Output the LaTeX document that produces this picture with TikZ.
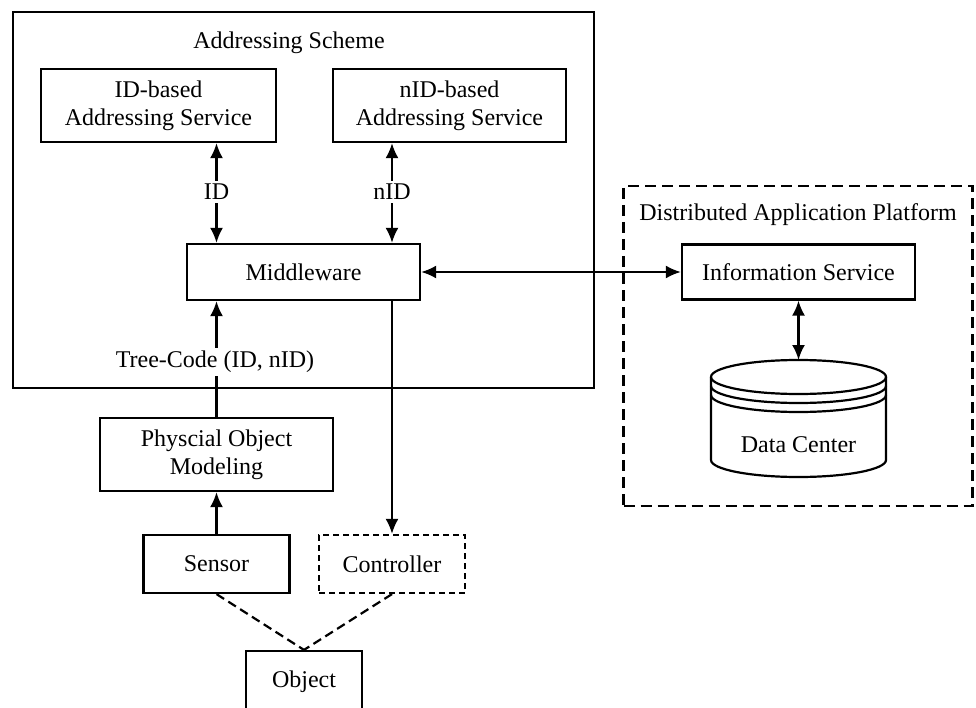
\documentclass[tikz,border=0pt]{standalone}
\usepackage{fontspec}
\setmainfont{Liberation Serif}
\usetikzlibrary{arrows.meta}

\tikzset{
  blk/.style={draw, line width=2.2pt, align=center, inner sep=0pt},
  dblk/.style={blk, dash pattern=on 6pt off 4pt},
  lbl/.style={fill=white, inner sep=3pt},
  link/.style={line width=2.2pt, -{Latex[length=15pt,width=13pt]}},
  dlink/.style={line width=2.2pt, {Latex[length=15pt,width=13pt]}-{Latex[length=15pt,width=13pt]}},
  wire/.style={line width=2.2pt, dash pattern=on 9pt off 5pt},
}

\begin{document}
\begin{tikzpicture}[x=1pt, y=-1pt, font=\fontsize{24}{28}\selectfont]
        \useasboundingbox (0,0) rectangle (976,708);

        % addressing scheme
        \node[blk, minimum width=581pt, minimum height=376pt] at (303.5,200) (scheme) {};
        \node at (289,43) (schemetitle) {Addressing Scheme};
        \node[blk, minimum width=235pt, minimum height=73pt] at (158.5,105.5) (idsvc) {ID-based\\Addressing Service};
        \node[blk, minimum width=233pt, minimum height=73pt] at (449.5,105.5) (nidsvc) {nID-based\\Addressing Service};
        \node[blk, minimum width=233pt, minimum height=56pt] at (303.5,272) (mw) {Middleware};

        % physical side
        \node[blk, minimum width=233pt, minimum height=73pt] at (216.5,454.5) (pom) {Physcial Object\\Modeling};
        \node[blk, minimum width=146pt, minimum height=58pt] at (216.5,564) (sensor) {Sensor};
        \node[dblk, minimum width=146pt, minimum height=58pt] at (392,564) (ctrl) {Controller};
        \node[blk, minimum width=116pt, minimum height=62pt] at (304,682) (obj) {Object};

        % distributed application platform
        \node[blk, dash pattern=on 11pt off 6pt, minimum width=349pt, minimum height=320pt] at (798,346) (dap) {};
        \node at (798,215) (daptitle) {Distributed Application Platform};
        \node[blk, minimum width=233pt, minimum height=55pt] at (798.5,272) (info) {Information Service};

        % data center
        \coordinate (dctop) at (798.5,360);
        \draw[line width=2.2pt] (798.5,377) ellipse [x radius=87.5, y radius=17];
        \draw[line width=2.2pt] (711,377) -- (711,460) arc [start angle=180, end angle=0, x radius=87.5, y radius=17] -- (886,377);
        \draw[line width=2.2pt] (711,386) arc [start angle=180, end angle=0, x radius=87.5, y radius=17];
        \draw[line width=2.2pt] (711,395) arc [start angle=180, end angle=0, x radius=87.5, y radius=17];
        \node at (798.5,445) (dc) {Data Center};

        \draw[dlink] (idsvc.south -| pom.north) -- (mw.north -| pom.north);
        \draw[dlink] (nidsvc.south -| ctrl.north) -- (mw.north -| ctrl.north);
        \draw[dlink] (mw) -- (info);
        \draw[dlink] (info) -- (dctop);
        \draw[link] (pom) -- (mw.south -| pom.north);
        \draw[link] (mw.south -| ctrl.north) -- (ctrl);
        \draw[link] (sensor) -- (pom);
        \draw[wire] (sensor.south) -- (obj.north);\draw[wire] (ctrl.south) -- (obj.north);

        \node[lbl] at (216.5,192) (idlab) {ID};
        \node[lbl] at (392,192) (nidlab) {nID};
        \node[lbl] at (215,362) (treelab) {Tree-Code (ID, nID)};
\end{tikzpicture}
\end{document}
